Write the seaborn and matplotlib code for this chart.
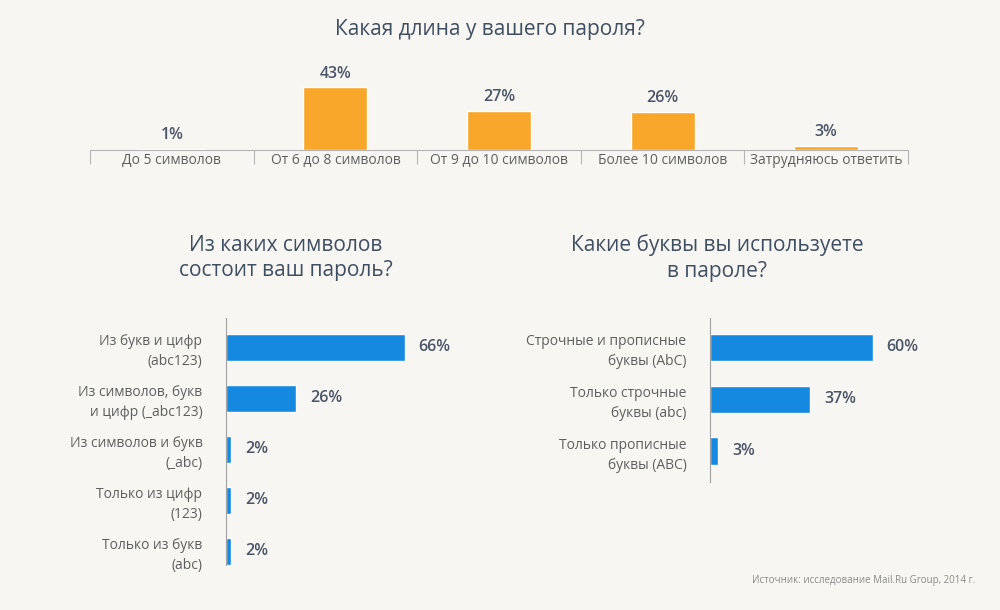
import matplotlib
matplotlib.use('Agg')
import matplotlib.pyplot as plt
import seaborn as sns
import pandas as pd

# Данные
dlina_kat = ['До 5 символов', 'От 6 до 8 символов', 'От 9 до 10 символов',
             'Более 10 символов', 'Затрудняюсь ответить']
dlina_val = [1, 43, 27, 26, 3]

simv_kat = ['Из букв и цифр\n(abc123)', 'Из символов, букв\nи цифр (_abc123)',
            'Из символов и букв\n(_abc)', 'Только из цифр\n(123)', 'Только из букв\n(abc)']
simv_val = [66, 26, 2, 2, 2]

bukv_kat = ['Строчные и прописные\nбуквы (AbC)', 'Только строчные\nбуквы (abc)',
            'Только прописные\nбуквы (ABC)']
bukv_val = [60, 37, 3]

fon = '#f7f6f2'
c_title = '#3f4f63'
c_val = '#4a5568'
c_lab = '#5f5f5f'

sns.set_style('white')
plt.rcParams['font.family'] = ['Open Sans', 'DejaVu Sans']

fig = plt.figure(figsize=(10, 6.1), dpi=100)
fig.patch.set_facecolor(fon)

W, H = 1000, 610


def px_axes(x0, y0, x1, y1):
    return fig.add_axes([x0 / W, 1 - y1 / H, (x1 - x0) / W, (y1 - y0) / H])


# 1. Длина пароля
ax1 = px_axes(90, 77, 908, 150)
df1 = pd.DataFrame({'kat': dlina_kat, 'val': dlina_val})
sns.barplot(data=df1, x='kat', y='val', color='#f9a72b', width=0.39, ax=ax1,
            saturation=1)
ax1.set_xlim(-0.5, 4.5)
ax1.set_ylim(0, 50)
ax1.patch.set_alpha(0)
for sp in ['top', 'right', 'left']:
    ax1.spines[sp].set_visible(False)
ax1.spines['bottom'].set_color('#b5b5b5')
ax1.set_yticks([])
ax1.set_xticks([i - 0.5 for i in range(6)])
ax1.set_xticklabels([])
ax1.tick_params(axis='x', which='major', direction='out', length=10, color='#b5b5b5', bottom=True)
ax1.set_xticks(range(5), minor=True)
ax1.set_xticklabels(dlina_kat, minor=True, fontsize=10, color=c_lab)
ax1.tick_params(axis='x', which='minor', length=0, pad=2)
ax1.set_xlabel('')
ax1.set_ylabel('')
for i, v in enumerate(dlina_val):
    ax1.annotate(f'{v}%', (i, v), xytext=(0, 4), textcoords='offset points',
                 ha='center', va='bottom', fontsize=11.5, color=c_val, fontweight='semibold')
fig.text(490 / W, 1 - 30 / H, 'Какая длина у вашего пароля?', ha='center', va='center',
         fontsize=15, color=c_title)


def hbar(ax, kat, val, n_bottom):
    df = pd.DataFrame({'kat': kat, 'val': val})
    sns.barplot(data=df, y='kat', x='val', color='#1589e0', width=0.53, ax=ax,
                orient='h', saturation=1)
    ax.set_xlim(0, 100)
    ax.set_ylim(n_bottom, -0.57)
    ax.patch.set_alpha(0)
    for sp in ['top', 'right', 'bottom']:
        ax.spines[sp].set_visible(False)
    ax.spines['left'].set_color('#a0a0a0')
    ax.set_xticks([])
    ax.tick_params(axis='y', length=0, pad=17)
    ax.set_yticks(range(len(kat)))
    ax.set_yticklabels(kat, fontsize=10, color=c_lab, linespacing=1.45)
    ax.set_xlabel('')
    ax.set_ylabel('')
    for i, v in enumerate(val):
        ax.annotate(f'{v}%', (v, i), xytext=(10, 0), textcoords='offset points',
                    ha='left', va='center', fontsize=11.5, color=c_val, fontweight='semibold')


# 2. Из каких символов
ax2 = px_axes(226, 318, 497, 565)
hbar(ax2, simv_kat, simv_val, 4.27)
fig.text(286 / W, 1 - 258 / H, 'Из каких символов\nсостоит ваш пароль?', ha='center',
         va='center', fontsize=15, color=c_title, linespacing=1.3)

# 3. Какие буквы
ax3 = px_axes(710, 318, 981, 482)
hbar(ax3, bukv_kat, bukv_val, 2.6)
fig.text(717 / W, 1 - 258 / H, 'Какие буквы вы используете\nв пароле?', ha='center',
         va='center', fontsize=15, color=c_title, linespacing=1.3)

fig.text(975 / W, 1 - 580 / H, 'Источник: исследование Mail.Ru Group, 2014 г.',
         ha='right', va='center', fontsize=7, color='#8a8a8a')

fig.savefig('out.png', dpi=100, facecolor=fon)
